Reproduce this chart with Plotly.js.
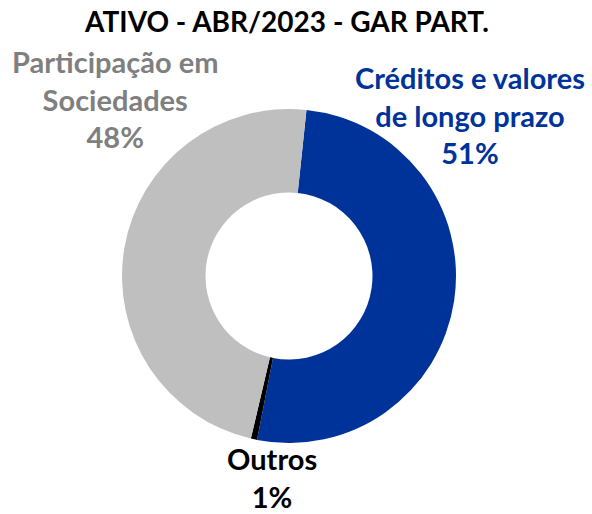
<!DOCTYPE html>
<html><head><meta charset="utf-8">
<script src="https://cdn.plot.ly/plotly-3.0.1.min.js"></script>
<style>html,body{margin:0;padding:0;background:#fff}#chart{width:592px;height:514px}</style>
</head><body><div id="chart"></div>
<script>
const labels = ["Créditos e valores de longo prazo", "Outros", "Participação em Sociedades"];
const labelLines = ["Créditos e valores<br>de longo prazo", "Outros", "Participação em<br>Sociedades"];
const values = [51.4, 0.6, 48.0];
const percentText = ["51%", "1%", "48%"];
const colors = ["#003399", "#000000", "#bfbfbf"];
const labelColors = ["#003399", "#000000", "#7f7f7f"];
const titleText = "ATIVO - ABR/2023 - GAR PART.";

const FONT = "Lato, 'Open Sans', sans-serif";
const W = 592, H = 514;
const cx = 289, cy = 276, R = 167;

const annPos = [
  {x: 470, y: 115},
  {x: 272, y: 477},
  {x: 115, y: 99}
];

const annotations = labels.map((l, i) => ({
  xref: "paper", yref: "paper",
  x: annPos[i].x / W, y: 1 - annPos[i].y / H,
  xanchor: "center", yanchor: "middle",
  text: "<b>" + labelLines[i] + "<br>" + percentText[i] + "</b>",
  showarrow: false, align: "center",
  font: {family: FONT, size: 29, color: labelColors[i]}
}));

const trace = {
  type: "pie",
  labels: labels,
  values: values,
  marker: {colors: colors, line: {width: 0}},
  hole: 0.5,
  sort: false,
  direction: "clockwise",
  rotation: 6,
  textinfo: "none",
  hoverinfo: "none",
  showlegend: false,
  domain: {
    x: [(cx - R) / W, (cx + R) / W],
    y: [(H - cy - R) / H, (H - cy + R) / H]
  }
};

const layout = {
  width: W, height: H,
  margin: {l: 0, r: 0, t: 0, b: 0},
  paper_bgcolor: "#fff",
  title: {
    text: "<b>" + titleText + "</b>",
    x: 287 / W, xanchor: "center",
    y: 1 - 22 / H, yanchor: "middle",
    font: {family: FONT, size: 28, color: "#000"}
  },
  annotations: annotations,
  showlegend: false
};

Plotly.newPlot("chart", [trace], layout, {displayModeBar: false, staticPlot: true});
</script></body></html>
